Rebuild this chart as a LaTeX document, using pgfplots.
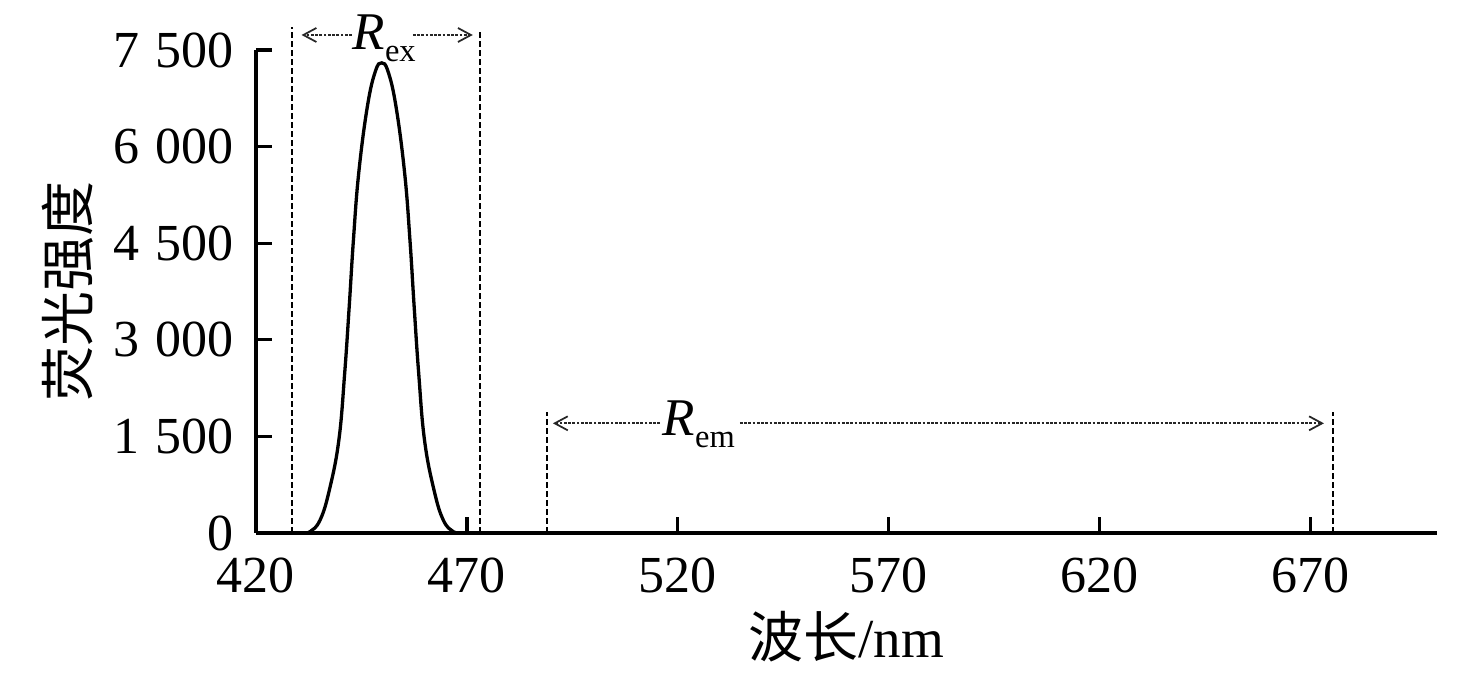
\documentclass[border=0pt]{standalone}
\usepackage{pgfplots}
\pgfplotsset{compat=1.18}
\usepackage{fontspec}
\setmainfont{Liberation Serif}
\newfontfamily\cjk{Noto Sans CJK SC}
\usetikzlibrary{arrows.meta}

\begin{document}
\begin{tikzpicture}
\begin{axis}[
  scale only axis, width=236.2pt, height=96.6pt,
  xmin=420, xmax=700, ymin=0, ymax=7500,
  axis lines=left,
  axis line style={-, line width=0.66pt},
  every tick/.style={black, line width=0.66pt},
  tick align=inside, major tick length=3.2pt,
  xtick={420,470,520,570,620,670},
  ytick={0,1500,3000,4500,6000,7500},
  tick label style={font=\fontsize{10.4}{12}\selectfont, inner sep=0pt},
  /pgf/number format/assume math mode=true,
  /pgf/number format/1000 sep={\hspace{0.3em}},
  xticklabel style={yshift=-4.7pt},
  yticklabel style={xshift=-4.3pt},
  xlabel={{\cjk 波长}/nm},
  ylabel={\cjk 荧光强度},
  label style={font=\fontsize{11}{13}\selectfont},
  xlabel style={at={(axis description cs:0.5,-0.2588)}, anchor=base},
  ylabel style={at={(axis description cs:-0.1592,0.5)}, anchor=center},
  clip=false,
]
% excitation peak
\addplot[black, line width=0.66pt, smooth, tension=0.7, mark=none] coordinates {
  (430.8,0) (432.8,20) (435.2,202) (437.4,668) (439.65,1444) (441.03,2484)
  (442.1,3514) (443.1,4550) (444.35,5585) (446.4,6620) (448.3,7168) (449.8,7300)
  (451.3,7168) (453.2,6620) (455.25,5585) (456.5,4550) (457.5,3514) (458.57,2484)
  (459.95,1444) (462.2,668) (464.4,202) (466.8,20) (468.8,0)
};
% dashed boundary lines
\addplot[black, line width=0.4pt, dash pattern=on 1.1pt off 0.7pt, mark=none] coordinates {(428.5,0) (428.5,7862)};
\addplot[black, line width=0.4pt, dash pattern=on 1.1pt off 0.7pt, mark=none] coordinates {(473.1,0) (473.1,7810)};
\addplot[black, line width=0.4pt, dash pattern=on 1.1pt off 0.7pt, mark=none] coordinates {(488.9,0) (488.9,1884)};
\addplot[black, line width=0.4pt, dash pattern=on 1.1pt off 0.7pt, mark=none] coordinates {(675.3,0) (675.3,1884)};
% labels
\node[inner sep=0pt, anchor=base, font=\fontsize{10.6}{12}\selectfont] at (axis cs:450.4,7500)
  {\textit{R}\raisebox{-2.4pt}{\fontsize{6.5}{7}\selectfont ex}};
\node[inner sep=0pt, anchor=base, font=\fontsize{10.6}{12}\selectfont] at (axis cs:525.0,1520)
  {\textit{R}\raisebox{-2.4pt}{\fontsize{6.5}{7}\selectfont em}};
% arrows
\tikzset{rarr/.style={black!85, line width=0.35pt, dash pattern=on 0.55pt off 0.3pt,
  -{Straight Barb[length=2.6pt, width=2.8pt]}}}
\draw[rarr] (axis cs:442.76,7733) -- (axis cs:430.8,7733);
\draw[rarr] (axis cs:457.2,7733) -- (axis cs:471.4,7733);
\draw[rarr] (axis cs:515.8,1703) -- (axis cs:490.4,1703);
\draw[rarr] (axis cs:534.7,1703) -- (axis cs:673.2,1703);
\end{axis}
\pgfresetboundingbox
\path[use as bounding box] (current axis.south west) ++(-51.2pt,-29.6pt) rectangle ++(295.2pt,136.2pt);
\end{tikzpicture}
\end{document}
